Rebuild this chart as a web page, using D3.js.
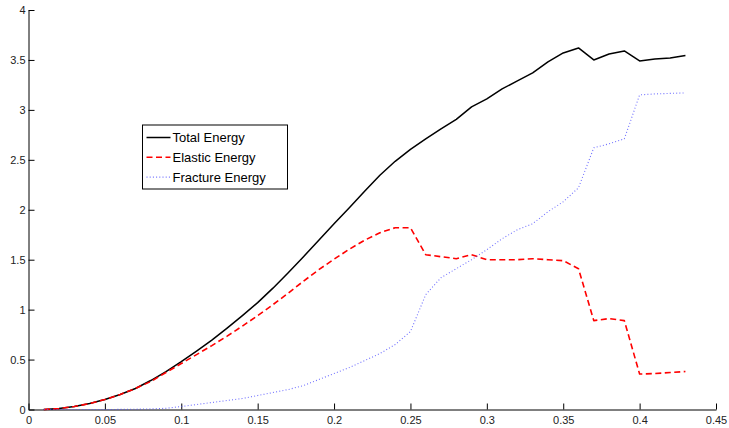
<!DOCTYPE html>
<html>
<head>
<meta charset="utf-8">
<script src="https://cdn.jsdelivr.net/npm/d3@7"></script>
<style>
  body { margin: 0; background: #fff; }
  svg { display: block; }
  text { font-family: "Liberation Sans", Arial, Helvetica, sans-serif; }
</style>
</head>
<body>
<svg id="chart" width="729" height="428"></svg>
<script>
// Load step (displacement) for each recorded sample
const steps = [0.01,0.02,0.03,0.04,0.05,0.06,0.07,0.08,0.09,0.10,
               0.11,0.12,0.13,0.14,0.15,0.16,0.17,0.18,0.19,0.20,
               0.21,0.22,0.23,0.24,0.25,0.26,0.27,0.28,0.29,0.30,
               0.31,0.32,0.33,0.34,0.35,0.36,0.37,0.38,0.39,0.40,
               0.41,0.42,0.43];

const totalEnergy = [0.00,0.01,0.03,0.06,0.10,0.15,0.21,0.29,0.38,0.48,
                     0.585,0.695,0.815,0.94,1.07,1.215,1.37,1.53,1.695,1.86,
                     2.02,2.185,2.345,2.485,2.605,2.71,2.81,2.905,3.03,3.11,
                     3.21,3.29,3.37,3.48,3.57,3.62,3.50,3.56,3.59,3.49,
                     3.51,3.52,3.545];

const elasticEnergy = [0.00,0.01,0.03,0.06,0.10,0.15,0.21,0.28,0.37,0.46,
                       0.55,0.64,0.735,0.835,0.94,1.05,1.165,1.285,1.40,1.505,
                       1.605,1.695,1.77,1.82,1.82,1.55,1.53,1.51,1.55,1.50,
                       1.50,1.50,1.51,1.50,1.49,1.41,0.89,0.91,0.89,0.355,
                       0.36,0.37,0.38];

const fractureEnergy = [0.00,0.00,0.00,0.00,0.00,0.001,0.003,0.006,0.012,0.03,
                        0.05,0.07,0.09,0.11,0.14,0.17,0.20,0.24,0.30,0.36,
                        0.42,0.49,0.56,0.65,0.78,1.15,1.32,1.41,1.50,1.60,
                        1.71,1.80,1.86,1.98,2.08,2.22,2.62,2.66,2.71,3.15,
                        3.16,3.165,3.17];

const xTicks = [0,0.05,0.1,0.15,0.2,0.25,0.3,0.35,0.4,0.45];
const yTicks = [0,0.5,1,1.5,2,2.5,3,3.5,4];

const seriesNames = ["Total Energy","Elastic Energy","Fracture Energy"];

const series = [
  { name: seriesNames[0], values: totalEnergy,    color: "#000000", width: 1.5, dash: null,  opacity: 1 },
  { name: seriesNames[1], values: elasticEnergy,  color: "#ff0000", width: 1.6, dash: "6,3.5", opacity: 1 },
  { name: seriesNames[2], values: fractureEnergy, color: "#4d4dff", width: 1.1, dash: "1,2.2", opacity: 0.8 }
];

const svg = d3.select("#chart");
const margin = { left: 28.5, right: 13, top: 10, bottom: 18.5 };
const W = 729, H = 428;

const x = d3.scaleLinear().domain([0, 0.45]).range([margin.left, W - margin.right]);
const y = d3.scaleLinear().domain([0, 4]).range([H - margin.bottom, margin.top]);

const fmt = d => (d === 0 ? "0" : String(d));

// X axis with inward ticks
const xAxis = svg.append("g")
  .attr("transform", `translate(0,${y(0)})`)
  .call(d3.axisBottom(x).tickValues(xTicks).tickFormat(fmt).tickSizeInner(-6).tickSizeOuter(0).tickPadding(5));

// Y axis with inward ticks
const yAxis = svg.append("g")
  .attr("transform", `translate(${x(0)},0)`)
  .call(d3.axisLeft(y).tickValues(yTicks).tickFormat(fmt).tickSizeInner(-6).tickSizeOuter(0).tickPadding(3));

[xAxis, yAxis].forEach(g => {
  g.select(".domain").attr("stroke", "#000").attr("stroke-width", 1);
  g.selectAll(".tick line").attr("stroke", "#000").attr("stroke-width", 1);
  g.selectAll(".tick text").attr("fill", "#222").style("font-size", "11px")
    .style("font-family", "'Liberation Sans', Arial, Helvetica, sans-serif");
});
xAxis.selectAll(".tick text").attr("dy", "0.85em");

const line = d3.line()
  .x((d, i) => x(steps[i]))
  .y(d => y(d));

series.forEach(s => {
  svg.append("path")
    .datum(s.values)
    .attr("fill", "none")
    .attr("stroke", s.color)
    .attr("stroke-width", s.width)
    .attr("stroke-opacity", s.opacity)
    .attr("stroke-dasharray", s.dash)
    .attr("stroke-linejoin", "round")
    .attr("d", line);
});

// Legend
const legend = svg.append("g").attr("transform", "translate(142.5,125)");
legend.append("rect")
  .attr("width", 145).attr("height", 64)
  .attr("fill", "#fff").attr("stroke", "#000").attr("stroke-width", 1);

series.forEach((s, i) => {
  const cy = 12.5 + i * 19.8;
  legend.append("line")
    .attr("x1", 4).attr("x2", 28)
    .attr("y1", cy).attr("y2", cy)
    .attr("stroke", s.color)
    .attr("stroke-width", s.width)
    .attr("stroke-opacity", s.opacity)
    .attr("stroke-dasharray", s.dash);
  legend.append("text")
    .attr("x", 30).attr("y", cy)
    .attr("dy", "0.36em")
    .style("font-size", "13px")
    .attr("fill", "#000")
    .text(s.name);
});
</script>
</body>
</html>
